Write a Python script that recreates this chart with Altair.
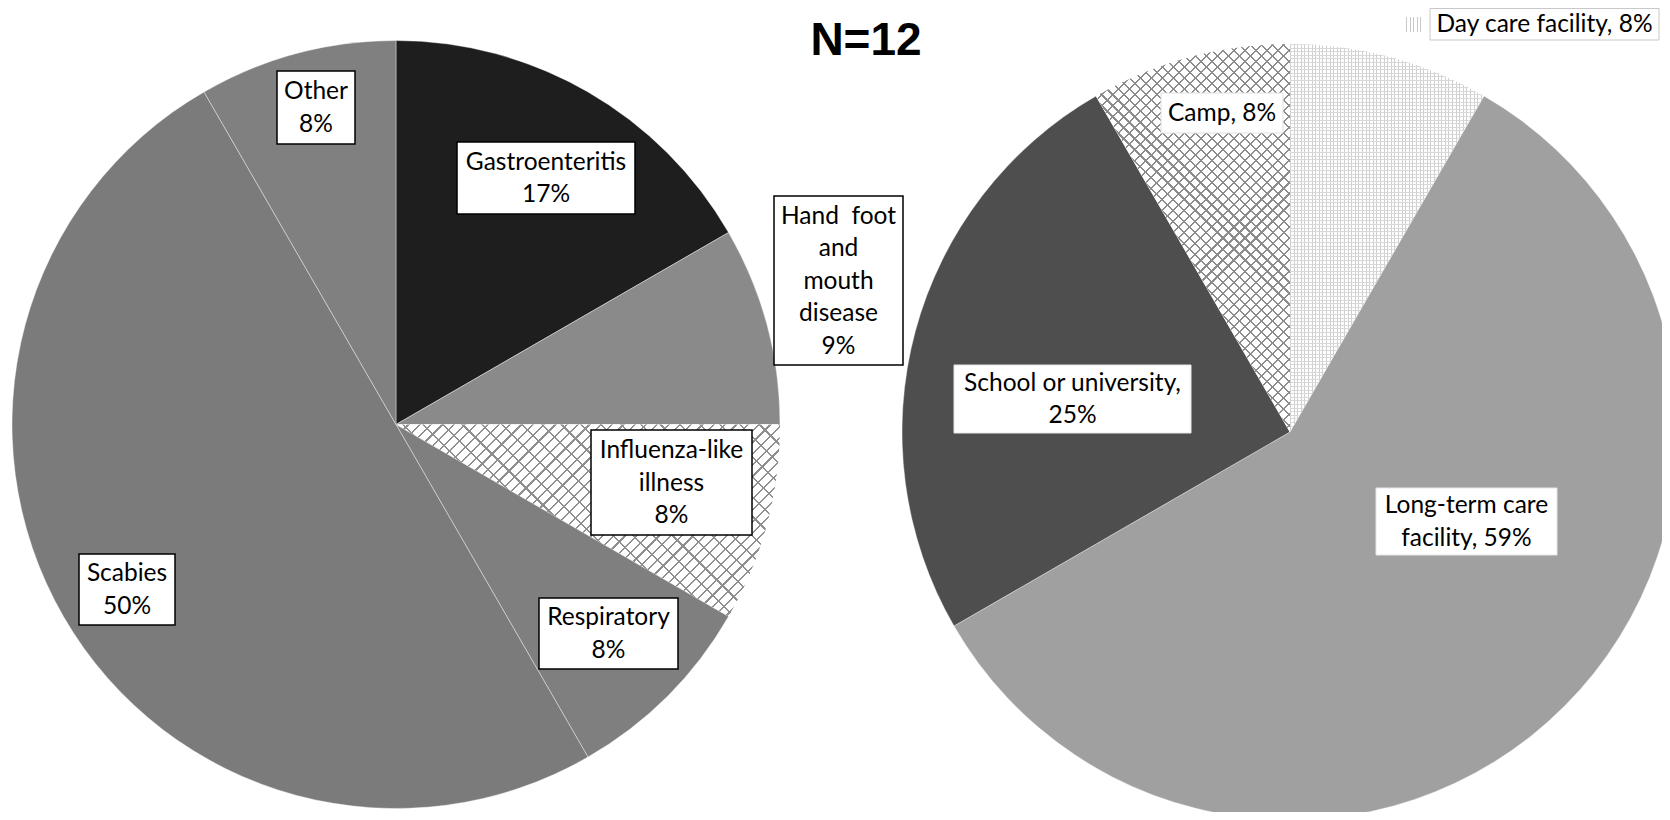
import math
import altair as alt
import pandas as pd

# ---------------- data ----------------
N_TOTAL = 12
TITLE = "N=12"

left_categories = ["Gastroenteritis", "Hand foot and mouth disease", "Influenza-like illness",
                   "Respiratory", "Scabies", "Other"]
left_counts = [2, 1, 1, 1, 6, 1]
left_labels = ["Gastroenteritis\n17%", "Hand\u00a0\u00a0foot\nand\nmouth\ndisease\n9%",
               "Influenza-like\nillness\n8%", "Respiratory\n8%", "Scabies\n50%", "Other\n8%"]

right_categories = ["Day care facility", "Long-term care facility", "School or university", "Camp"]
right_counts = [1, 7, 3, 1]
right_labels = ["Day care facility, 8%", "Long-term care\nfacility, 59%",
                "School or university,\n25%", "Camp, 8%"]

# ---------------- styles / layout ----------------
W, H = 1654, 804
LEFT_CENTER, LEFT_R = (388, 416.5), 384
RIGHT_CENTER, RIGHT_R = (1282, 424), 388

left_fill = {"Gastroenteritis": "#1e1e1e", "Hand foot and mouth disease": "#8a8a8a",
             "Influenza-like illness": "#ffffff", "Respiratory": "#7f7f7f",
             "Scabies": "#7b7b7b", "Other": "#808080"}
right_fill = {"Day care facility": "#ffffff", "Long-term care facility": "#a0a0a0",
              "School or university": "#4e4e4e", "Camp": "#ffffff"}

# label boxes (view coords): x0, x1, y0, y1, border colour, border width
left_boxes = {"Gastroenteritis": (449, 627, 134, 206, "black", 1.5),
              "Hand foot and mouth disease": (766, 895, 188, 357, "black", 1.5),
              "Influenza-like illness": (583, 744, 422, 527, "black", 1.5),
              "Respiratory": (531, 670, 590, 661, "black", 1.5),
              "Scabies": (71, 167, 546, 617, "black", 1.5),
              "Other": (269, 347, 63, 136, "black", 1.5)}
right_boxes = {"Day care facility": (1422, 1651, 0.5, 32, "#c8c8c8", 1),
               "Long-term care facility": (1368, 1549, 480, 547, "#e6e6e6", 1),
               "School or university": (946, 1183, 357, 425, "#e6e6e6", 1),
               "Camp": (1153, 1275, 85, 125, "#e0e0e0", 1)}

FONT = "Lato"
FONT_SIZE = 24.5
LINE_H = 32.5


def wedge_bbox(c0, c1, r):
    a0, a1 = 2 * math.pi * c0 / N_TOTAL, 2 * math.pi * c1 / N_TOTAL
    angs = [a0, a1] + [k * math.pi / 2 for k in range(5) if a0 < k * math.pi / 2 < a1]
    xs = [0] + [r * math.sin(a) for a in angs]
    ys = [0] + [-r * math.cos(a) for a in angs]
    return max(xs) - min(xs), max(ys) - min(ys)


def stripes(w, h, direction, period, line, color):
    if direction in ("/", "\\"):
        q = h * (w + h) / (w * w + h * h)
        p = q * w / h
        L = (w + h) / math.sqrt(2)
        if direction == "/":
            x1, y1, x2, y2 = 0, 0, p, q
        else:
            x1, y1, x2, y2 = 0, 1, p, 1 - q
    elif direction == "-":
        x1, y1, x2, y2 = 0, 0, 0, 1
        L = h
    else:
        x1, y1, x2, y2 = 0, 0, 1, 0
        L = w
    clear = "rgba(255,255,255,0)"
    stops = []
    i = 0
    while i * period <= L:
        a = i * period / L
        b = min((i * period + line) / L, 1)
        stops += [{"offset": a, "color": clear}, {"offset": a, "color": color},
                  {"offset": b, "color": color}, {"offset": b, "color": clear}]
        i += 1
    stops.append({"offset": 1, "color": clear})
    return {"gradient": "linear", "x1": x1, "y1": y1, "x2": x2, "y2": y2, "stops": stops}


theta_scale = alt.Scale(domain=[0, N_TOTAL], range=[0, 2 * math.pi])


def pie(cats, counts, fills, center, r, key, patterns):
    df = pd.DataFrame({key: cats, "count": counts, "order": list(range(len(cats)))})
    base = alt.Chart(df).transform_window(
        cum="sum(count)", sort=[alt.SortField("order")], frame=[None, 0]
    ).transform_calculate(start="datum.cum - datum.count")
    th = alt.Theta("start:Q", scale=theta_scale, stack=False)
    layers = [base.mark_arc(x=center[0], y=center[1], radius=r, stroke="#ffffff",
                            strokeWidth=0.4).encode(
        theta=th, theta2="cum:Q",
        fill=alt.Fill(f"{key}:N", scale=alt.Scale(domain=cats, range=[fills[c] for c in cats]),
                      legend=None))]
    cum = 0
    starts = {}
    for c, v in zip(cats, counts):
        starts[c] = (cum, cum + v)
        cum += v
    for cat, specs in patterns.items():
        w, h = wedge_bbox(starts[cat][0], starts[cat][1], r)
        for d, period, line, color in specs:
            layers.append(base.transform_filter(alt.datum[key] == cat).mark_arc(
                x=center[0], y=center[1], radius=r,
                fill=stripes(w, h, d, period, line, color)).encode(theta=th, theta2="cum:Q"))
    return layers


left_layers = pie(left_categories, left_counts, left_fill, LEFT_CENTER, LEFT_R, "lcat",
                  {"Influenza-like illness": [("/", 8, 1.6, "#8f8f8f"), ("\\", 14, 1.6, "#8f8f8f")]})
right_layers = pie(right_categories, right_counts, right_fill, RIGHT_CENTER, RIGHT_R, "rcat",
                   {"Camp": [("/", 7.8, 1.5, "#8c8c8c"), ("\\", 7.8, 1.5, "#8c8c8c")],
                    "Day care facility": [("|", 3.6, 1.0, "#d0d0d0"), ("-", 3.6, 1.0, "#d8d8d8")]})

# label table
rows = []
for cats, labels, boxes in ((left_categories, left_labels, left_boxes),
                            (right_categories, right_labels, right_boxes)):
    for c, lab in zip(cats, labels):
        x0, x1, y0, y1, col, bw = boxes[c]
        n = lab.count("\n") + 1
        rows.append({"cat": c, "label": lab, "x0": x0, "x1": x1, "y0": y0, "y1": y1,
                     "tx": (x0 + x1) / 2, "ty": (y0 + y1) / 2 + 1 - (n - 1) * LINE_H / 2,
                     "border": col, "bw": bw})
lab_df = pd.DataFrame(rows)

boxes = alt.Chart(lab_df).mark_rect(fill="white").encode(
    x=alt.X("x0:Q", scale=None, axis=None), x2="x1:Q",
    y=alt.Y("y0:Q", scale=None, axis=None), y2="y1:Q",
    stroke=alt.Stroke("border:N", scale=None),
    strokeWidth=alt.StrokeWidth("bw:Q", scale=None))

texts = alt.Chart(lab_df).mark_text(font=FONT, fontSize=FONT_SIZE, lineBreak="\n",
                                    lineHeight=LINE_H, align="center", baseline="middle",
                                    color="black").encode(
    x=alt.X("tx:Q", scale=None, axis=None), y=alt.Y("ty:Q", scale=None, axis=None),
    text="label:N")

swatch = alt.Chart(pd.DataFrame({"k": ["Day care facility"]})).mark_rect(
    fill=stripes(15, 16, "|", 3.6, 1.0, "#c8c8c8")).encode(
    x=alt.value(1398), x2=alt.value(1413), y=alt.value(9), y2=alt.value(24))

title = alt.Chart(pd.DataFrame({"t": [TITLE]})).mark_text(
    font="Liberation Sans", fontWeight="bold", fontSize=46, align="center",
    baseline="alphabetic", color="black").encode(
    x=alt.value(858), y=alt.value(47), text="t:N")

chart = alt.layer(*left_layers, *right_layers, boxes, texts, swatch, title).resolve_scale(
    fill="independent", stroke="independent", strokeWidth="independent"
).properties(
    width=W, height=H, padding=0, autosize=alt.AutoSizeParams(type="none"),
    background="white"
).configure_view(stroke=None)

chart.save("out.html", embed_options={"renderer": "svg", "actions": False})
